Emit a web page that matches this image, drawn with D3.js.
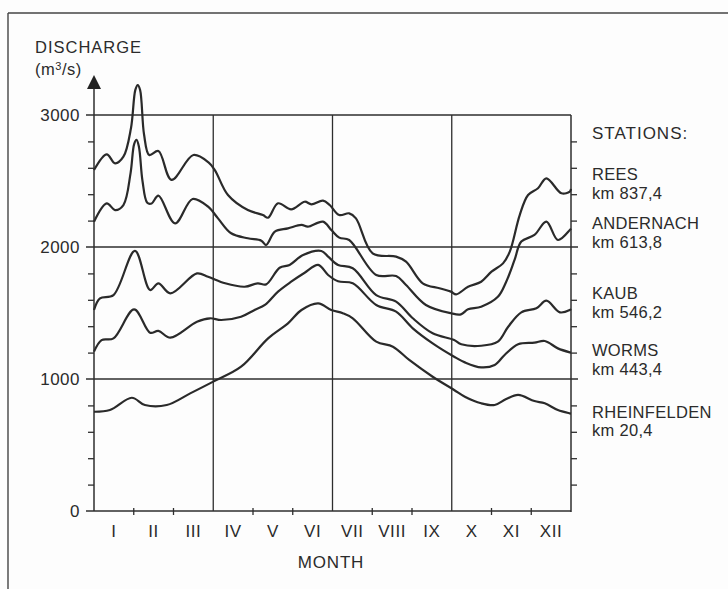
<!DOCTYPE html>
<html>
<head>
<meta charset="utf-8">
<script src="https://cdn.jsdelivr.net/npm/d3@7"></script>
<style>
  html, body { margin: 0; padding: 0; background: #fdfdfd; }
  svg { display: block; }
  text { font-family: "Liberation Sans", Arial, sans-serif; fill: #2b2b2b; }
</style>
</head>
<body>
<svg id="chart" width="728" height="589"></svg>
<script>
// ---- data (month position from 1 Jan = 0, discharge m3/s) ----
const months = ["I","II","III","IV","V","VI","VII","VIII","IX","X","XI","XII"];
const yTickLabels = [0, 1000, 2000, 3000];

const rees = [
  [0,2583],[0.32,2702],[0.53,2634],[0.74,2684],[0.93,2900],[1.04,3190],[1.10,3227],[1.16,3190],[1.26,2850],
  [1.39,2697],[1.62,2727],[1.95,2508],[2.50,2697],[2.88,2641],[3.04,2583],[3.37,2394],[3.87,2280],
  [4.25,2242],[4.38,2222],[4.63,2331],[4.96,2285],[5.30,2343],[5.47,2323],[5.76,2351],[5.93,2318],
  [6.17,2242],[6.42,2255],[6.59,2217],[7.01,1952],[7.60,1927],[7.85,1889],[8.27,1725],[8.69,1687],
  [8.98,1662],[9.11,1641],[9.41,1699],[9.74,1737],[10.0,1813],[10.29,1876],[10.46,1965],[10.71,2242],
  [10.92,2394],[11.17,2445],[11.38,2520],[11.76,2407],[11.97,2419],[12,2440]
];
const andernach = [
  [0,2192],[0.32,2331],[0.53,2280],[0.74,2318],[0.92,2560],[1.01,2780],[1.07,2811],[1.13,2760],[1.22,2500],
  [1.34,2335],[1.45,2330],[1.62,2389],[2.04,2179],[2.48,2364],[2.87,2305],[3.12,2217],[3.45,2104],[3.87,2066],
  [4.21,2048],[4.33,2015],[4.55,2116],[4.88,2141],[5.22,2167],[5.38,2154],[5.76,2192],[5.97,2129],
  [6.17,2071],[6.42,2053],[7.10,1788],[7.60,1780],[7.85,1712],[8.35,1561],[8.98,1498],[9.23,1490],
  [9.41,1528],[9.74,1548],[10.16,1623],[10.37,1737],[10.58,1902],[10.75,2041],[11.08,2091],[11.38,2192],
  [11.67,2053],[11.97,2129],[12,2140]
];
const kaub = [
  [0,1523],[0.15,1611],[0.49,1636],[1.03,1970],[1.41,1674],[1.62,1725],[1.92,1649],[2.59,1800],
  [2.87,1775],[3.30,1725],[3.79,1699],[4.12,1725],[4.33,1717],[4.67,1843],[4.92,1864],[5.26,1939],
  [5.72,1970],[5.89,1927],[6.14,1864],[6.51,1839],[7.10,1636],[7.60,1586],[8.02,1460],[8.52,1346],
  [9.06,1295],[9.24,1263],[9.74,1252],[10.16,1283],[10.42,1396],[10.75,1505],[11.13,1536],[11.38,1593],
  [11.72,1505],[11.97,1523],[12,1530]
];
const worms = [
  [0,1207],[0.19,1295],[0.49,1308],[1.01,1527],[1.41,1351],[1.62,1364],[1.92,1313],[2.59,1434],
  [2.92,1460],[3.20,1447],[3.70,1472],[4.04,1523],[4.30,1561],[4.63,1662],[4.96,1737],[5.30,1805],
  [5.64,1864],[5.89,1788],[6.14,1740],[6.51,1725],[7.10,1561],[7.60,1510],[8.02,1384],[8.52,1270],
  [9.06,1169],[9.33,1126],[9.74,1088],[10.08,1106],[10.33,1182],[10.67,1263],[11.08,1275],[11.34,1288],
  [11.67,1232],[11.97,1202],[12,1200]
];
const rheinfelden = [
  [0,752],[0.40,765],[0.95,858],[1.28,803],[1.83,803],[2.42,891],[3.00,980],[3.70,1093],
  [4.38,1308],[4.88,1422],[5.22,1523],[5.64,1573],[5.97,1523],[6.26,1498],[6.51,1460],[7.10,1283],
  [7.52,1245],[7.93,1144],[8.52,1017],[9.06,917],[9.33,866],[9.74,816],[10.08,803],[10.37,848],
  [10.67,879],[11.08,833],[11.34,816],[11.67,765],[11.97,740],[12,738]
];
const stationNames = ["REES","ANDERNACH","KAUB","WORMS","RHEINFELDEN"];
const stationKm = ["km 837,4","km 613,8","km 546,2","km 443,4","km 20,4"];
const series = [rees, andernach, kaub, worms, rheinfelden];

// ---- layout ----
const svg = d3.select("#chart");
const L = 94, R = 571, T = 115, B = 511;
const x = d3.scaleLinear().domain([0, 12]).range([L, R]);
const y = d3.scaleLinear().domain([0, 3000]).range([B, T]);
const ink = "#2e2e2e";

// outer frame (scan border)
svg.append("line").attr("x1", 8).attr("x2", 728).attr("y1", 13).attr("y2", 13)
  .attr("stroke", "#444").attr("stroke-width", 1.4);
svg.append("line").attr("x1", 8).attr("x2", 8).attr("y1", 13).attr("y2", 589)
  .attr("stroke", "#444").attr("stroke-width", 1.4);

// horizontal gridlines 1000/2000/3000
const gridVals = yTickLabels.filter(v => v > 0);
svg.append("g").selectAll("line").data(gridVals).join("line")
  .attr("x1", L - 8).attr("x2", d => d === 3000 ? R : R + 7)
  .attr("y1", d => y(d)).attr("y2", d => y(d))
  .attr("stroke", ink).attr("stroke-width", 1.3);

// vertical quarter lines
svg.append("g").selectAll("line").data([3, 6, 9]).join("line")
  .attr("x1", d => x(d)).attr("x2", d => x(d))
  .attr("y1", y(3000)).attr("y2", y(0))
  .attr("stroke", ink).attr("stroke-width", 1.3);

// left axis with minor ticks every 200
const minor = d3.range(200, 3000, 200).filter(v => v % 1000 !== 0);
const leftAxis = d3.axisLeft(y).tickValues(minor).tickSize(6).tickFormat("");
const gl = svg.append("g").attr("transform", `translate(${L},0)`).call(leftAxis);
gl.select(".domain").remove();
gl.selectAll(".tick line").attr("stroke", ink).attr("stroke-width", 1.3);
svg.append("line").attr("x1", L).attr("x2", L).attr("y1", B).attr("y2", 86)
  .attr("stroke", ink).attr("stroke-width", 1.5);
svg.append("path").attr("d", `M${L},75 L${L - 7},89 L${L + 7},89 Z`).attr("fill", "#222");

// right axis with ticks every 200
const rightAxis = d3.axisRight(y).tickValues(minor).tickSize(6).tickFormat("");
const gr = svg.append("g").attr("transform", `translate(${R},0)`).call(rightAxis);
gr.select(".domain").remove();
gr.selectAll(".tick line").attr("stroke", ink).attr("stroke-width", 1.3);
svg.append("line").attr("x1", R).attr("x2", R).attr("y1", B + 1).attr("y2", T)
  .attr("stroke", ink).attr("stroke-width", 1.5);

// bottom axis
svg.append("line").attr("x1", L - 8).attr("x2", R).attr("y1", B).attr("y2", B)
  .attr("stroke", ink).attr("stroke-width", 1.4);
svg.append("g").selectAll("line").data([1,2,4,5,7,8,10,11]).join("line")
  .attr("x1", d => x(d)).attr("x2", d => x(d)).attr("y1", B - 3).attr("y2", B + 4)
  .attr("stroke", ink).attr("stroke-width", 1.3);

// y tick labels
svg.append("g").selectAll("text").data(yTickLabels).join("text")
  .attr("x", 80).attr("y", d => y(d) + 6)
  .attr("text-anchor", "end").attr("font-size", 17).attr("letter-spacing", 0.5).text(d => d);

// month labels
svg.append("g").selectAll("text").data(months).join("text")
  .attr("x", (d, i) => x(i + 0.5)).attr("y", 537)
  .attr("text-anchor", "middle").attr("font-size", 17).attr("letter-spacing", 0.6).text(d => d);
svg.append("text").attr("x", 331).attr("y", 568).attr("text-anchor", "middle")
  .attr("font-size", 17).attr("letter-spacing", 0.8).text("MONTH");

// y title
svg.append("text").attr("x", 35).attr("y", 53).attr("font-size", 16.5)
  .attr("letter-spacing", 1).text("DISCHARGE");
const unit = svg.append("text").attr("x", 35).attr("y", 75).attr("font-size", 16.5).attr("letter-spacing", 0.5);
unit.append("tspan").text("(m");
unit.append("tspan").attr("font-size", 11).attr("dy", -5).text("3");
unit.append("tspan").attr("dy", 5).text("/s)");

// curves
const line = d3.line().x(d => x(d[0])).y(d => y(d[1])).curve(d3.curveCatmullRom.alpha(0.5));
svg.append("g").selectAll("path").data(series).join("path")
  .attr("d", line).attr("fill", "none").attr("stroke", "#2a2a2a")
  .attr("stroke-width", 2.2).attr("stroke-linejoin", "round");

// legend text
const lx = 592;
svg.append("text").attr("x", lx).attr("y", 139).attr("font-size", 17)
  .attr("letter-spacing", 1).text("STATIONS:");
const nameY = [180, 229, 299, 356, 418];
const kmY = [199, 248, 318, 375, 436];
svg.append("g").selectAll("text").data(stationNames).join("text")
  .attr("x", lx).attr("y", (d, i) => nameY[i]).attr("font-size", 16.5).attr("letter-spacing", 0.3).text(d => d);
svg.append("g").selectAll("text").data(stationKm).join("text")
  .attr("x", lx).attr("y", (d, i) => kmY[i]).attr("font-size", 16.5).attr("letter-spacing", 0.3).text(d => d);
</script>
</body>
</html>
